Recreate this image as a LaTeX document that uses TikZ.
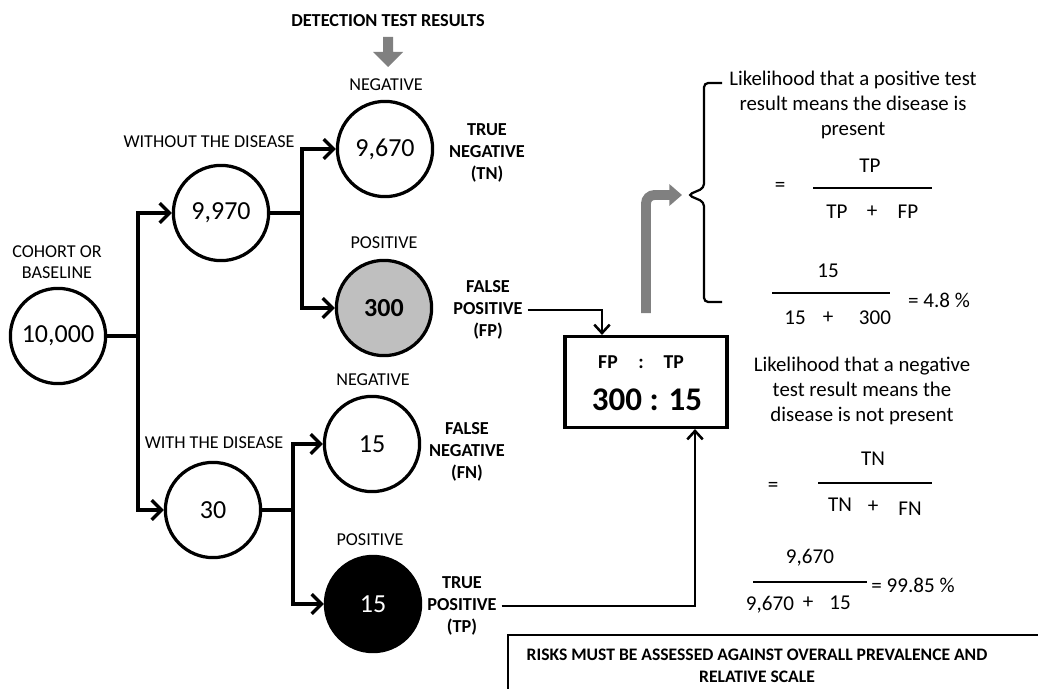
\documentclass[tikz,border=0pt]{standalone}
\usepackage{fontspec}
\setmainfont{Carlito}
\usetikzlibrary{arrows.meta}
\definecolor{arrowgrey}{HTML}{808080}
\definecolor{fpgrey}{HTML}{BFBFBF}
\tikzset{
	pop/.style={circle,draw,line width=2.3pt,minimum size=2.38cm,inner sep=0pt,font=\fontsize{18.5}{21}\selectfont},
	caplab/.style={font=\fontsize{12.9}{15}\selectfont,align=center},
	tag/.style={font=\bfseries\fontsize{13}{15.6}\selectfont,align=center},
	branch/.style={line width=2.3pt,-{Straight Barb[length=7pt,width=14pt]}},
	link/.style={line width=1.8pt,-{Straight Barb[length=6pt,width=11pt]}},
	prose/.style={font=\fontsize{14.8}{17.8}\selectfont,align=center},
	term/.style={font=\fontsize{15}{18}\selectfont},
	fracbar/.style={line width=1.5pt}
}
\begin{document}
\begin{tikzpicture}[x=0.025cm,y=-0.025cm]
		\useasboundingbox (0,0) rectangle (1038,689);
		%tree
		\node[tag,font=\bfseries\fontsize{13}{15}\selectfont] (head) at (388,21) {DETECTION TEST RESULTS};
		\fill[arrowgrey] (383,37) -- (393,37) -- (393,52) -- (403,52) -- (388,67) -- (373,52) -- (383,52) -- cycle;
		\node[pop] (root) at (58,336) {10,000};
		\node[caplab] (rootlab) at (57,262) {COHORT OR\\BASELINE};
		\node[pop] (free) at (221,213) {9,970};
		\node[caplab] (freelab) at (209,142) {WITHOUT THE DISEASE};
		\node[pop] (sick) at (213,510) {30};
		\node[caplab] (sicklab) at (214,443) {WITH THE DISEASE};
		\node[pop] (tn) at (385,149) {9,670};
		\node[caplab] (tnhead) at (386,85) {NEGATIVE};
		\node[pop,fill=fpgrey,font=\bfseries\fontsize{18.5}{21}\selectfont] (fp) at (384,308) {300};
		\node[caplab] (fphead) at (384,243) {POSITIVE};
		\node[pop] (fn) at (372,444) {15};
		\node[caplab] (fnhead) at (373,380) {NEGATIVE};
		\node[pop,fill=black,text=white] (tp) at (373,604) {15};
		\node[caplab] (tphead) at (370,540) {POSITIVE};
		\node[tag] (tnlab) at (487,153) {TRUE\\NEGATIVE\\(TN)};
		\node[tag] (fplab) at (488,310) {FALSE\\POSITIVE\\(FP)};
		\node[tag] (fnlab) at (467,452) {FALSE\\NEGATIVE\\(FN)};
		\node[tag] (tplab) at (462,606) {TRUE\\POSITIVE\\(TP)};
		\coordinate (s0) at (138,336);
		\coordinate (s1) at (302,213);
		\coordinate (s2) at (293,510);
		\draw[line width=2.3pt] (root.east) -- (s0);
		\draw[branch] (s0) |- (free.west);
		\draw[branch] (s0) |- (sick.west);
		\draw[line width=2.3pt] (free.east) -- (s1);
		\draw[branch] (s1) |- (tn.west);
		\draw[branch] (s1) |- (fp.west);
		\draw[line width=2.3pt] (sick.east) -- (s2);
		\draw[branch] (s2) |- (fn.west);
		\draw[branch] (s2) |- (tp.west);
		%ratio box
		\node[draw,line width=2.2pt,minimum width=4.05cm,minimum height=2.275cm] (ratio) at (646,382) {};
		\node[font=\bfseries\fontsize{14}{16}\selectfont] (ratiohead) at (641,362) {FP\hspace{1.05em}:\hspace{1em}TP};
		\node[font=\bfseries\fontsize{23.5}{28}\selectfont] (ratioval) at (647,400) {300 : 15};
		\draw[link] (fplab.east) -| ([xshift=-1.1cm]ratio.north);
		\draw[link] (tplab.east) -| ([xshift=1.225cm]ratio.south);
		%positive side
		\coordinate (riser) at (646,313);
		\coordinate (bracetip) at (688,195);
		\draw[arrowgrey,line width=7pt,rounded corners=6pt,-{Triangle[length=9pt,width=15pt]}] (riser) |- ([xshift=-0.15cm]bracetip);
		\draw[line width=1.6pt,rounded corners=3pt] (722,83) -- (704,83) -- (704,188) -- (bracetip) -- (704,202) -- (704,302) -- (722,302);
		\node[prose] (pvtext) at (853,105) {Likelihood that a positive test\\result means the disease is\\present};
		\node[term] (eqa) at (780,187) {=};
		\node[term] (pvtop) at (870,166) {TP};
		\draw[fracbar] (813,188) -- (932,188);
		\node[term] (pvtp) at (837,212) {TP};
		\node[term] (pvplus) at (872,212) {+};
		\node[term] (pvfp) at (908,212) {FP};
		\node[term] (pvnum) at (828,271) {15};
		\draw[fracbar] (772,293) -- (890,293);
		\node[term] (pvden) at (795,318) {15};
		\node[term] (pvplusb) at (828,318) {+};
		\node[term] (pvdenb) at (875,318) {300};
		\node[term] (pvres) at (939,300) {= 4.8 \%};
		%negative side
		\node[prose] (nvtext) at (862,391) {Likelihood that a negative\\test result means the\\disease is not present};
		\node[term] (eqb) at (773,487) {=};
		\node[term] (nvtop) at (873,459) {TN};
		\draw[fracbar] (818,483) -- (932,483);
		\node[term] (nvtn) at (840,505) {TN};
		\node[term] (nvplus) at (873,507) {+};
		\node[term] (nvfn) at (910,509) {FN};
		\node[term] (nvnum) at (810,558) {9,670};
		\draw[fracbar] (753,582) -- (867,582);
		\node[term] (nvden) at (770,605) {9,670};
		\node[term] (nvplusb) at (808,603) {+};
		\node[term] (nvdenb) at (840,603) {15};
		\node[term] (nvres) at (913,585) {= 99.85 \%};
		%note
		\draw[line width=1.8pt] (508,700) -- (508,635) -- (1050,635);
		\node[tag,font=\bfseries\fontsize{12.5}{15.6}\selectfont] (note) at (757,666) {RISKS MUST BE ASSESSED AGAINST OVERALL PREVALENCE AND\\RELATIVE SCALE};
\end{tikzpicture}
\end{document}
